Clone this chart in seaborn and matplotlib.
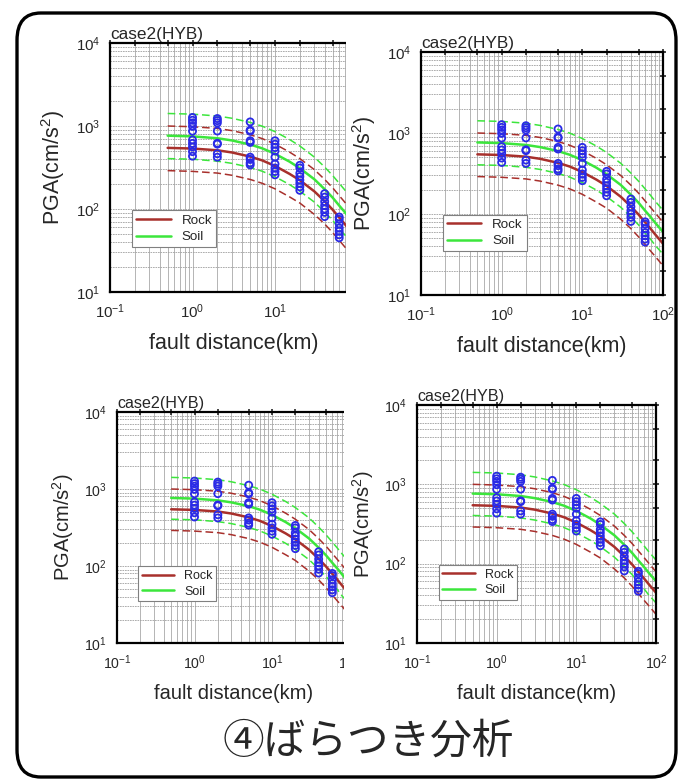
import pandas as pd
import seaborn as sns
import matplotlib.pyplot as plt
from matplotlib.patches import Rectangle, FancyBboxPatch
from matplotlib.ticker import LogLocator, LogFormatterSciNotation, NullFormatter

# attenuation curves (PGA in cm/s^2 vs fault distance in km)
dist = [0.5, 1, 2, 3, 5, 7, 10, 15, 20, 30, 40, 50, 60, 70, 80, 100]
rock_med = [545, 535, 510, 480, 428, 385, 330, 265, 222, 163, 124, 98, 79, 66, 56, 43]
rock_up = [1000, 980, 935, 880, 785, 705, 605, 485, 405, 298, 227, 180, 145, 121, 103, 79]
rock_lo = [290, 284, 271, 255, 227, 204, 175, 140, 118, 86, 66, 52, 42, 35, 30, 23]
soil_med = [765, 750, 712, 670, 598, 538, 462, 372, 310, 228, 173, 137, 110, 92, 78, 60]
soil_up = [1415, 1390, 1320, 1240, 1105, 995, 855, 688, 574, 422, 320, 253, 204, 170, 144, 111]
soil_lo = [405, 398, 377, 355, 317, 285, 245, 197, 164, 121, 92, 73, 58, 49, 41, 32]

# simulated PGA at each station distance
col_dist = [1, 2, 5, 10, 20, 40, 60]
pga_1km = [1267, 1173, 1089, 989, 867, 678, 617, 560, 491, 433]
pga_2km = [1230, 1160, 1090, 870, 620, 605, 463, 421]
pga_5km = [1120, 890, 867, 664, 634, 421, 395, 360, 340]
pga_10km = [664, 604, 550, 500, 421, 349, 312, 283, 258]
pga_20km = [336, 312, 270, 246, 223, 204, 185, 168]
pga_40km = [153, 139, 123, 110, 100, 91, 81]
pga_60km = [80, 75, 66, 59, 54, 49, 45]

panel_title = "case2(HYB)"
xlabel = "fault distance(km)"
ylabel = "PGA(cm/s$^2$)"
big_title = "④ばらつき分析"

obs = pd.concat([
    pd.DataFrame({"dist": d, "pga": p})
    for d, p in zip(col_dist, [pga_1km, pga_2km, pga_5km, pga_10km,
                               pga_20km, pga_40km, pga_60km])
])

ROCK = "#a8302c"
SOIL = "#3ce63c"
BLUE = "#2a2ae6"

sns.set_style("white")
plt.rcParams["font.family"] = ["Liberation Sans", "DejaVu Sans"]
plt.rcParams["mathtext.fontset"] = "custom"
plt.rcParams["mathtext.rm"] = "Liberation Sans"
plt.rcParams["mathtext.it"] = "Liberation Sans:italic"

W, H = 681, 779
fig = plt.figure(figsize=(W / 100, H / 100), dpi=100)


def px_axes(x0, y0, x1, y1):
    # pixel box (top-left origin) -> figure axes
    return fig.add_axes([x0 / W, 1 - y1 / H, (x1 - x0) / W, (y1 - y0) / H])


def draw_panel(ax, fs):
    ax.set_xscale("log")
    ax.set_yscale("log")
    curves = [
        (rock_lo, ROCK, "--", 1.1, "_nolegend_"),
        (rock_up, ROCK, "--", 1.1, "_nolegend_"),
        (soil_lo, SOIL, "--", 1.1, "_nolegend_"),
        (soil_up, SOIL, "--", 1.1, "_nolegend_"),
        (rock_med, ROCK, "-", 1.8, "Rock"),
        (soil_med, SOIL, "-", 1.8, "Soil"),
    ]
    for y, c, ls, lw, lab in curves:
        sns.lineplot(x=dist, y=y, ax=ax, color=c, linestyle=ls, linewidth=lw,
                     label=lab, sort=False, estimator=None, legend=False)
    for ln in ax.lines:
        if ln.get_linestyle() == "--":
            ln.set_dashes((5, 2.5))
    sns.scatterplot(data=obs, x="dist", y="pga", ax=ax, marker="o",
                    facecolors="none", edgecolor=BLUE, s=26, linewidth=1.3,
                    zorder=5, legend=False)

    ax.set_xlim(0.1, 100)
    ax.set_ylim(10, 1e4)
    for axis in (ax.xaxis, ax.yaxis):
        axis.set_major_locator(LogLocator(base=10, subs=(1.0, 2.0, 5.0)))
        axis.set_major_formatter(LogFormatterSciNotation(labelOnlyBase=True))
        axis.set_minor_locator(LogLocator(base=10, subs=(3, 4, 6, 7, 8, 9)))
        axis.set_minor_formatter(NullFormatter())
    ax.grid(axis="x", which="both", color="#a8a8a8", linewidth=0.6, linestyle="-")
    ax.grid(axis="y", which="both", color="#a0a0a0", linewidth=0.6, linestyle=(0, (2, 1)))
    ax.set_axisbelow(True)
    ax.tick_params(which="major", direction="inout", length=4.5, width=1.2,
                   top=True, right=True, labelsize=fs * 0.7, pad=5)
    ax.tick_params(which="minor", length=0)
    for sp in ax.spines.values():
        sp.set_linewidth(1.6)
        sp.set_color("black")
    ax.set_xlabel(xlabel, fontsize=fs, labelpad=9)
    ax.set_ylabel(ylabel, fontsize=fs, labelpad=6)
    ax.text(0, 1.005, panel_title, transform=ax.transAxes, ha="left", va="bottom",
            fontsize=fs * 0.8)
    leg = ax.legend(loc="lower left", bbox_to_anchor=(0.09, 0.18), fontsize=fs * 0.62,
                    frameon=True, fancybox=False, edgecolor="#808080",
                    framealpha=1, borderpad=0.3, handlelength=2.6,
                    handletextpad=0.8, labelspacing=0.3, borderaxespad=0)
    leg.get_frame().set_linewidth(0.8)


ax_tl = px_axes(110, 43, 357.5, 292)
ax_tr = px_axes(421, 52, 663, 295)
ax_bl = px_axes(117, 412, 349.5, 643)
ax_br = px_axes(417, 405, 656, 643)

draw_panel(ax_tl, 15.5)
draw_panel(ax_tr, 15.5)
draw_panel(ax_bl, 14.5)
draw_panel(ax_br, 14.5)

# the right-hand panels are pasted over the left ones
ax_tl.set_zorder(1)
ax_bl.set_zorder(1)
fig.add_artist(Rectangle((346 / W, 1 - 372 / H), (W - 346) / W, (372 - 15) / H,
                         transform=fig.transFigure, facecolor="white",
                         edgecolor="none", zorder=2))
fig.add_artist(Rectangle((344 / W, 1 - 712 / H), (W - 344) / W, (712 - 378) / H,
                         transform=fig.transFigure, facecolor="white",
                         edgecolor="none", zorder=2))
ax_tr.set_zorder(3)
ax_br.set_zorder(3)

# rounded frame and slide caption
fig.add_artist(FancyBboxPatch((17 / W, 1 - 777 / H), (676 - 17) / W, (777 - 13) / H,
                              boxstyle="round,pad=0,rounding_size=0.035",
                              transform=fig.transFigure, facecolor="none",
                              edgecolor="black", linewidth=2.4, zorder=10))
fig.text(368 / W, 1 - 742 / H, big_title, ha="center", va="center", fontsize=30,
         family=["Noto Sans CJK JP", "DejaVu Sans"], zorder=11)

fig.savefig("out.png", dpi=100)
